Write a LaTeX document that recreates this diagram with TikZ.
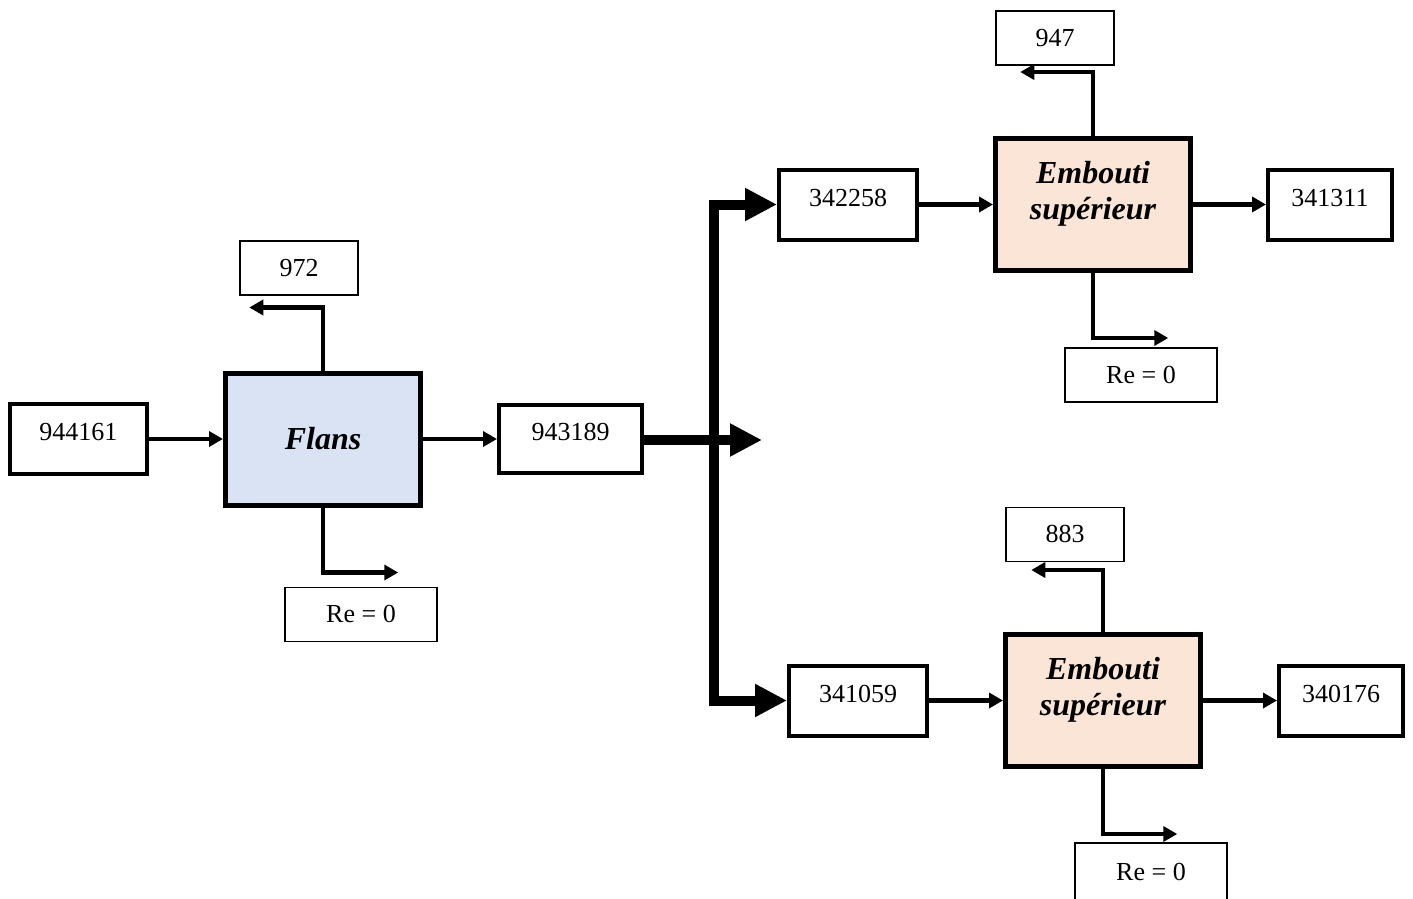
\documentclass[tikz,border=0pt]{standalone}
\usepackage{fontspec}
\setmainfont{Liberation Serif}
\usetikzlibrary{arrows.meta, positioning}
\definecolor{flblue}{HTML}{DAE3F3}
\definecolor{empeach}{HTML}{FBE5D6}
\tikzset{
  val/.style ={rectangle, draw, line width=2pt, minimum width=69pt, minimum height=35pt, text depth=7pt, inner sep=0pt, font=\fontsize{13}{15}\selectfont},
  prc/.style ={rectangle, draw, line width=2.5pt, minimum width=97.5pt, minimum height=66pt, align=center, inner sep=0pt, font=\fontsize{16}{18}\selectfont\bfseries\itshape},
  sml/.style ={rectangle, draw, line width=0.75pt, minimum width=59pt, minimum height=27pt, inner sep=0pt, font=\fontsize{13}{15}\selectfont},
  fl/.style  ={line width=2.2pt, line join=miter, -{Triangle[length=7pt, width=7.5pt]}},
  fl3/.style ={line width=5pt, line join=miter, -{Triangle[length=16pt, width=15.5pt]}},
}
\begin{document}
\begin{tikzpicture}[x=0.5pt, y=-0.5pt]
  \path[use as bounding box, clip] (0,0) rectangle (1413,899);
  \node[val, minimum width=68.5pt] (v944161) at (78.5,439) {944161};
  \node[prc, fill=flblue, right=37pt of v944161] (flans) {Flans};
  \node[val, minimum width=71.5pt, minimum height=34pt, right=37pt of flans] (v943189) {943189};
  \node[sml, above=37.5pt of flans, xshift=-12pt] (o972) {972};
  \node[sml, minimum width=76pt, below=39.5pt of flans, xshift=19pt] (re1) {Re = 0};
  \coordinate (fork) at (714,440);
  \coordinate (midend) at (762,440);

  \node[val] (v342258) at (848,204.5) {342258};
  \node[prc, fill=empeach, text depth=14pt, right=37pt of v342258] (emb1) {Embouti\\supérieur};
  \node[val, minimum width=62pt, right=36.5pt of emb1] (v341311) {341311};
  \node[sml, above=35pt of emb1, xshift=-19pt] (o947) {947};
  \node[sml, minimum width=76pt, below=37pt of emb1, xshift=24pt] (re2) {Re = 0};

  \node[val] (v341059) at (858,700.5) {341059};
  \node[prc, fill=empeach, text depth=14pt, right=37pt of v341059] (emb2) {Embouti\\supérieur};
  \node[val, minimum width=62pt, right=37pt of emb2] (v340176) {340176};
  \node[sml, above=35pt of emb2, xshift=-19pt] (o883) {883};
  \node[sml, minimum width=76pt, minimum height=29pt, below=36.5pt of emb2, xshift=24pt] (re3) {Re = 0};

  \draw[fl] (v944161.east) -- (v944161.east -| flans.west);
  \draw[fl] (flans.east) -- (flans.east -| v943189.west);
  \draw[fl] (flans.north) |- ([shift={(10,12)}]o972.south west);
  \draw[fl] (flans.south) |- ([shift={(114,-14)}]re1.north west);
  \draw[fl3] (v943189.east |- midend) -- (midend);
  \draw[fl3] (fork) |- (v342258.west);
  \draw[fl3] (fork) |- (v341059.west);

  \draw[fl] (v342258.east) -- (v342258.east -| emb1.west);
  \draw[fl] (emb1.east |- v341311) -- (v341311.west);
  \draw[fl] (emb1.north) |- ([shift={(25,6)}]o947.south west);
  \draw[fl] (emb1.south) |- ([shift={(104,-9)}]re2.north west);

  \draw[fl] (v341059.east) -- (v341059.east -| emb2.west);
  \draw[fl] (emb2.east |- v340176) -- (v340176.west);
  \draw[fl] (emb2.north) |- ([shift={(26,8)}]o883.south west);
  \draw[fl] (emb2.south) |- ([shift={(103,-8)}]re3.north west);
\end{tikzpicture}
\end{document}
